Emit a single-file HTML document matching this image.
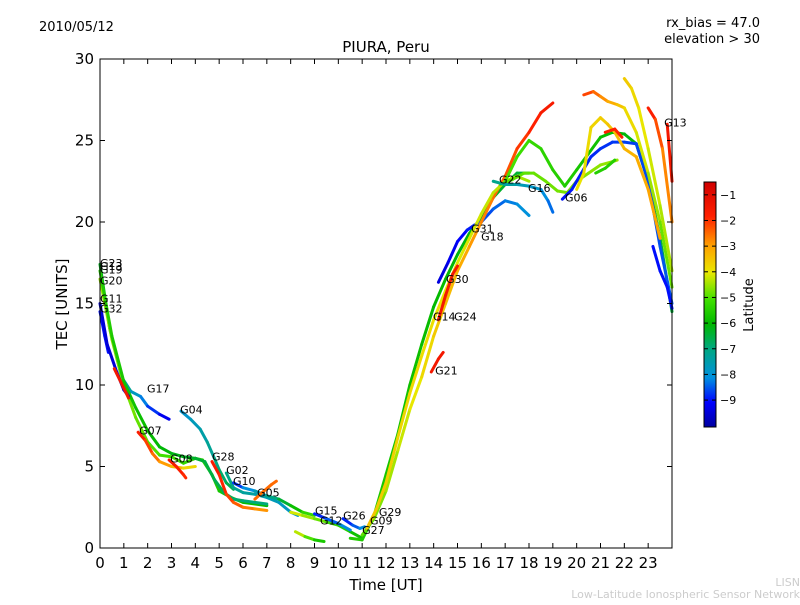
<!DOCTYPE html>
<html><head><meta charset="utf-8"><style>
body{margin:0;background:#fff;width:800px;height:600px;overflow:hidden;font-family:"Liberation Sans","DejaVu Sans",sans-serif}
svg text{font-family:"DejaVu Sans","Liberation Sans",sans-serif}
</style></head><body>
<svg id="chart" width="800" height="600" viewBox="0 0 800 600" xmlns="http://www.w3.org/2000/svg">
<defs><linearGradient id="jet" x1="0" y1="1" x2="0" y2="0">
<stop offset="0" stop-color="#0000a0"/><stop offset="0.1" stop-color="#0000ff"/><stop offset="0.2" stop-color="#0090e0"/><stop offset="0.32" stop-color="#00a880"/><stop offset="0.42" stop-color="#00b800"/><stop offset="0.52" stop-color="#40e000"/><stop offset="0.63" stop-color="#e8e800"/><stop offset="0.74" stop-color="#ffa000"/><stop offset="0.86" stop-color="#ff2000"/><stop offset="1" stop-color="#d00000"/>
</linearGradient></defs>
<text x="39" y="31" font-size="13">2010/05/12</text>
<text x="760" y="27" font-size="13" text-anchor="end">rx_bias = 47.0</text>
<text x="760" y="43" font-size="13" text-anchor="end">elevation &gt; 30</text>
<text x="386" y="52" font-size="15" text-anchor="middle">PIURA, Peru</text>
<text x="386" y="590" font-size="15" text-anchor="middle">Time [UT]</text>
<text x="67" y="304" font-size="15" text-anchor="middle" transform="rotate(-90 67 304)">TEC [UNITS]</text>
<g id="tracks"></g>
<g id="labels"></g>
<rect x="100" y="59" width="572" height="489" fill="none" stroke="#000" stroke-width="1"/>
<g id="axes"></g>
<rect x="704" y="182" width="12" height="245" fill="url(#jet)" stroke="#000" stroke-width="1"/>
<g id="cbticks"></g>
<text x="753" y="305" font-size="13" text-anchor="middle" transform="rotate(-90 753 305)">Latitude</text>
<text x="800" y="586" font-size="11" fill="#ccc" text-anchor="end">LISN</text>
<text x="800" y="598" font-size="11" fill="#ccc" text-anchor="end">Low-Latitude Ionospheric Sensor Network</text>
</svg>
<script>
const xTicks=[0,1,2,3,4,5,6,7,8,9,10,11,12,13,14,15,16,17,18,19,20,21,22,23];
const yTicks=[0,5,10,15,20,25,30];
const cbTicks=[-1,-2,-3,-4,-5,-6,-7,-8,-9];
const latMin=-10.05, latMax=-0.5;
const trackPts=[
[[0,17.4],[0.4,13.5],[0.9,10.5],[1.3,9.6],[1.7,9.3],[2,8.7],[2.5,8.2],[2.9,7.9]],
[[0,16.5],[0.5,12.8],[1,10],[1.5,8],[2,6.5],[2.5,5.7],[3,5.6],[3.5,5.2],[4,5.5],[4.3,5.4],[4.7,4.5],[5,3.5],[5.5,3.1],[6,2.8],[7,2.6]],
[[0,17],[0.5,13],[1,10.2],[1.5,8.6],[2,7.2],[2.5,6.2],[3,5.8],[3.5,5.6],[4,5.5],[4.4,5.3],[4.8,4.2],[5.2,3.4],[5.6,3],[6,2.9],[7,2.7]],
[[1.6,7.1],[1.9,6.6],[2.2,5.8],[2.5,5.3],[3,5.0],[3.5,4.9],[4,5.0]],
[[2.9,5.4],[3.2,5.0],[3.5,4.5],[3.6,4.3]],
[[3.4,8.4],[3.8,7.9],[4.2,7.3],[4.5,6.5],[4.8,5.5],[5,4.8],[5.3,4.0],[5.6,3.6]],
[[4.7,5.3],[5,4.5],[5.3,3.3],[5.6,2.8],[6,2.5],[6.5,2.4],[7,2.3]],
[[5.3,4.6],[5.6,3.7],[6,3.4],[6.5,3.3],[7,3.1],[7.5,2.8],[8,2.2],[8.3,2.0]],
[[5.6,4.0],[6,3.7],[6.5,3.5],[7,3.2],[7.5,3.0],[8,2.6],[8.5,2.2],[9,2.0]],
[[0,14.5],[0.2,13],[0.35,12]],
[[0,15],[0.3,12.5],[0.7,10.8],[1,9.7],[1.2,9.3]],
[[0.6,11],[1.0,9.8],[1.2,9.2]],
[[6.5,3],[6.8,3.4],[7.2,3.9],[7.4,4.1]],
[[8,2.2],[8.5,2.0],[9,1.8],[9.5,1.6],[10,1.4],[10.5,1.0],[11,0.6]],
[[9,2.1],[9.5,1.8],[10,1.5],[10.5,1.1]],
[[8.2,1.0],[8.6,0.7],[9,0.5],[9.4,0.4]],
[[10.2,1.8],[10.6,1.4],[10.9,1.2],[11.1,1.3]],
[[10.5,0.6],[11,0.5],[11.5,2],[12,4.5],[12.5,7],[13,10],[13.5,12.5],[14,14.8],[14.5,16.5],[15,18],[15.5,19.3],[16,20.3],[16.5,21.5],[17,22.3],[17.5,23],[18,23]],
[[14.2,16.3],[14.6,17.5],[15,18.8],[15.4,19.5],[15.7,19.8],[16,20],[16.5,20.8],[17,21.3],[17.5,21.1],[18,20.4]],
[[11,0.8],[11.5,1.8],[12,3.5],[12.5,6],[13,8.5],[13.5,10.5],[14,13],[14.5,15],[15,17],[15.5,18.5],[16,20],[16.5,21.5],[17,22.8],[17.5,24.5],[18,25.5],[18.5,26.7],[19,27.3]],
[[11.2,1.2],[11.6,2.4],[12,4],[12.5,6.8],[13,9.5],[13.5,11.8],[14,14],[14.5,15.8],[15,17.5],[15.5,19],[16,20.5],[16.5,21.8],[17,22.5],[17.5,22.8],[18,22.5]],
[[13.9,10.8],[14.2,11.6],[14.4,12]],
[[14.2,14],[14.5,15.5],[14.8,16.8],[15,17.3]],
[[16.8,22.3],[17.3,22.6],[17.8,23],[18.2,23],[18.7,22.5],[19.2,21.9],[19.6,21.8],[20,22.5],[20.5,23],[21,23.5],[21.5,23.7],[21.7,23.8]],
[[16.5,22.5],[17,22.3],[17.5,22.3],[18,22.2],[18.5,22],[18.8,21.3],[19,20.6]],
[[17,22.5],[17.5,24],[18,25],[18.5,24.5],[19,23.2],[19.5,22.2],[20,23.2],[20.5,24.2],[21,25.2],[21.5,25.5],[22,25.4],[22.5,24.8],[23,22.5],[23.5,19],[24,14.5]],
[[19.4,21.4],[19.8,22],[20.2,23],[20.6,24],[21,24.5],[21.5,24.9],[22,24.9],[22.5,24.8],[23,22.5],[23.5,18.5],[24,15]],
[[20.3,27.8],[20.7,28],[21,27.7],[21.3,27.4],[21.7,27.2],[22,27],[22.5,25.5],[23,23],[23.5,20],[24,16]],
[[22,28.8],[22.3,28.2],[22.6,27],[23,24.5],[23.5,21],[24,17]],
[[20,22],[20.3,23],[20.6,25.8],[21,26.4],[21.3,26],[21.6,25.5],[22,24.5],[22.5,24],[23,22],[23.5,19]],
[[23,27],[23.3,26.3],[23.6,24.5],[24,20]],
[[23.8,26],[24,22.5]],
[[23.2,18.5],[23.5,17],[23.8,16],[24,14.7]],
[[20.8,23],[21.2,23.3],[21.6,23.8]],
[[21.2,25.5],[21.6,25.7],[21.9,25.2]]
];
const trackLatStart=[-6,-4.5,-5.5,-1.5,-1.5,-8,-1.5,-7,-9,-9,-9.5,-1.5,-2.5,-4,-9,-4,-9,-5.5,-9.5,-5,-3.5,-1.5,-1.5,-5,-7,-5,-9,-2,-3.5,-4,-1.5,-1.5,-9,-5.5,-1.8];
const trackLatEnd=[-9.5,-6,-7,-4,-2,-6.5,-3,-8,-5,-9,-9.5,-1.5,-2.5,-6,-8,-6,-8,-6.5,-8,-1.5,-4.5,-1.5,-1.5,-4.5,-8.5,-6.5,-8.5,-5,-4.5,-3,-3,-1.5,-9,-5.5,-1.8];
const labelNames=["G23","G13","G19","G20","G11","G32","G17","G04","G07","G08","G28","G02","G10","G05","G15","G12","G26","G29","G09","G27","G14","G24","G21","G30","G31","G18","G22","G16","G06","G13"];
const labelX=[0,0,0,0,0,0,1.97,3.36,1.64,2.94,4.7,5.29,5.58,6.59,9.02,9.23,10.2,11.7,11.33,11.0,13.97,14.86,14.06,14.52,15.57,15.99,16.74,17.96,19.51,23.67];
const labelY=[17.5,17.3,17.1,16.4,15.3,14.7,9.8,8.5,7.2,5.5,5.6,4.8,4.1,3.4,2.3,1.7,2.0,2.2,1.7,1.1,14.2,14.2,10.9,16.5,19.6,19.1,22.6,22.1,21.5,26.1];

const X0=100,X1=672,Y0=548,Y1=59;
const xs=h=>X0+h*(X1-X0)/24;
const ys=v=>Y0-v*(Y0-Y1)/30;
const cs=l=>427-(l-latMin)*(427-182)/(latMax-latMin);
const cStops=[[0,[0,0,160]],[0.1,[0,0,255]],[0.2,[0,144,224]],[0.32,[0,168,128]],[0.42,[0,184,0]],[0.52,[64,224,0]],[0.63,[232,232,0]],[0.74,[255,160,0]],[0.86,[255,32,0]],[1,[208,0,0]]];
function cmap(t){t=Math.max(0,Math.min(1,t));
 for(let i=1;i<cStops.length;i++){if(t<=cStops[i][0]){const a=cStops[i-1],b=cStops[i];const f=(t-a[0])/(b[0]-a[0]);
  return 'rgb('+a[1].map((v,k)=>Math.round(v+(b[1][k]-v)*f)).join(',')+')';}}
 return 'rgb(208,0,0)';}
const NS="http://www.w3.org/2000/svg";
const tg=document.getElementById('tracks');
trackPts.forEach((pts,i)=>{
 const g=document.createElementNS(NS,'g');
 
 
 const n=pts.length-1;
 for(let k=0;k<n;k++){
  const f=n?(k+0.5)/n:0;
  const lat=trackLatStart[i]+(trackLatEnd[i]-trackLatStart[i])*f;
  const ln=document.createElementNS(NS,'line');
  
  
  ln.setAttribute('x1',xs(pts[k][0]));ln.setAttribute('y1',ys(pts[k][1]));
  ln.setAttribute('x2',xs(pts[k+1][0]));ln.setAttribute('y2',ys(pts[k+1][1]));
  ln.setAttribute('stroke',cmap((lat-latMin)/(latMax-latMin)));
  ln.setAttribute('stroke-width','3');ln.setAttribute('stroke-linecap','round');
  g.appendChild(ln);
 }
 tg.appendChild(g);
});
const lg=document.getElementById('labels');
labelNames.forEach((s,i)=>{
 const t=document.createElementNS(NS,'text');
 
 
 t.setAttribute('x',xs(labelX[i]));t.setAttribute('y',ys(labelY[i])+4);
 t.setAttribute('font-size','11');t.textContent=s;lg.appendChild(t);
});
const ax=document.getElementById('axes');
function add(tag,attrs,name,txt){const e=document.createElementNS(NS,tag);
 for(const k in attrs)e.setAttribute(k,attrs[k]);
 
 
 if(txt!==undefined)e.textContent=txt;return e;}
xTicks.forEach(h=>{const x=xs(h);
 ax.appendChild(add('line',{x1:x,y1:Y0,x2:x,y2:Y0-5,stroke:'#000'},'x-tick'));
 ax.appendChild(add('line',{x1:x,y1:Y1,x2:x,y2:Y1+5,stroke:'#000'},'x-tick-top'));
 ax.appendChild(add('text',{x:x,y:568,'font-size':'15','text-anchor':'middle'},'x-tick-label',String(h)));
});
yTicks.forEach(v=>{const y=ys(v);
 ax.appendChild(add('line',{x1:X0,y1:y,x2:X0+5,y2:y,stroke:'#000'},'y-tick'));
 ax.appendChild(add('line',{x1:X1,y1:y,x2:X1-5,y2:y,stroke:'#000'},'y-tick-right'));
 ax.appendChild(add('text',{x:94,y:y+5,'font-size':'15','text-anchor':'end'},'y-tick-label',String(v)));
});
const cb=document.getElementById('cbticks');
cbTicks.forEach(l=>{const y=cs(l);
 cb.appendChild(add('line',{x1:704,y1:y,x2:708,y2:y,stroke:'#000'},'colorbar-tick'));
 cb.appendChild(add('line',{x1:716,y1:y,x2:712,y2:y,stroke:'#000'},'colorbar-tick-right'));
 cb.appendChild(add('text',{x:720,y:y+4,'font-size':'11'},'colorbar-tick-label','\u2212'+Math.abs(l)));
});
</script>
</body></html>
